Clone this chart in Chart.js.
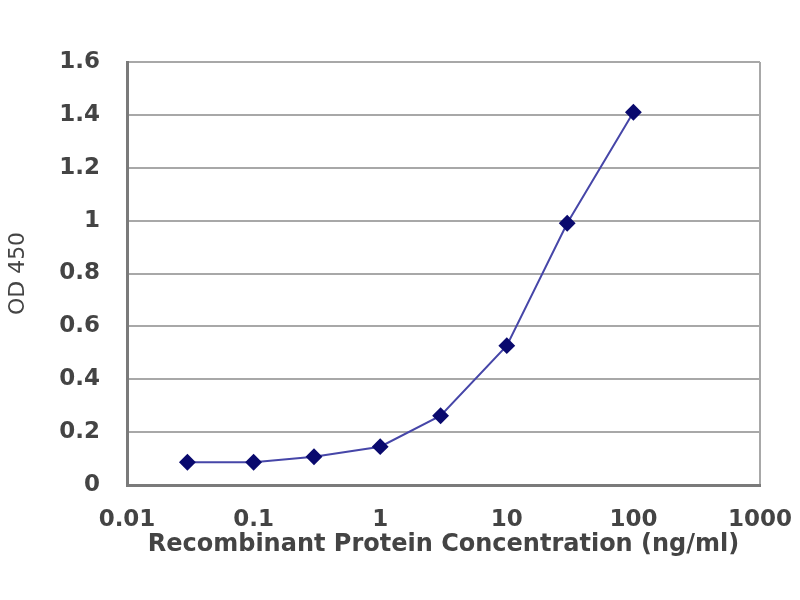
<!DOCTYPE html>
<html>
<head>
<meta charset="utf-8">
<title>OD 450 vs Recombinant Protein Concentration</title>
<script src="https://cdn.jsdelivr.net/npm/chart.js@4/dist/chart.umd.min.js"></script>
<style>
  html, body { margin: 0; padding: 0; background: #fff; }
  #wrap { width: 800px; height: 600px; }
</style>
</head>
<body>
<div id="wrap"><canvas id="odChart" width="800" height="600"></canvas></div>
<script>
// concentrations (ng/ml) and OD readings
const concentrations = [0.03, 0.1, 0.3, 1, 3, 10, 30, 100];
const odValues = [0.086, 0.086, 0.107, 0.145, 0.262, 0.527, 0.99, 1.41];
const xTickValues = [0.01, 0.1, 1, 10, 100, 1000];
const yTickValues = [0, 0.2, 0.4, 0.6, 0.8, 1, 1.2, 1.4, 1.6];

const textColor = '#444444';
const tickFont = { family: 'DejaVu Sans', size: 23, weight: 'bold' };

const ctx = document.getElementById('odChart').getContext('2d');
const chart = new Chart(ctx, {
    type: 'scatter',
    data: {
        datasets: [{
            label: 'OD 450',
            data: concentrations.map((c, i) => ({ x: c, y: odValues[i] })),
            showLine: true,
            borderColor: '#4646a8',
            borderWidth: 2,
            pointStyle: 'rectRot',
            pointRadius: 7,
            pointBackgroundColor: '#0a0a6e',
            pointBorderColor: '#0a0a6e'
        }]
    },
    options: {
        responsive: false,
        animation: false,
        layout: { padding: { top: 62, right: 40, left: 0, bottom: 0 } },
        plugins: { legend: { display: false }, tooltip: { enabled: false } },
        scales: {
            x: {
                type: 'logarithmic',
                min: 0.01,
                max: 1000,
                afterBuildTicks: s => { s.ticks = xTickValues.map(v => ({ value: v })); },
                afterFit: s => { s.height = 115; s.paddingLeft = 0; s.paddingRight = 0; },
                ticks: {
                    color: textColor,
                    font: tickFont,
                    padding: 21,
                    maxRotation: 0,
                    autoSkip: false,
                    callback: v => String(v)
                },
                grid: {
                    drawTicks: false,
                    lineWidth: 2,
                    color: c => (c.tick && c.tick.value === 1000) ? '#a8a8a8' : 'rgba(0,0,0,0)'
                },
                border: { color: '#7a7a7a', width: 3 },
                title: {
                    display: true,
                    text: 'Recombinant Protein Concentration (ng/ml)',
                    color: textColor,
                    font: { family: 'DejaVu Sans', size: 24, weight: 'bold' },
                    padding: { top: 0, bottom: 41 }
                }
            },
            y: {
                min: 0,
                max: 1.6,
                afterBuildTicks: s => { s.ticks = yTickValues.map(v => ({ value: v })); },
                afterFit: s => { s.width = 127; s.paddingTop = 0; s.paddingBottom = 0; },
                ticks: {
                    color: textColor,
                    font: tickFont,
                    padding: 27,
                    callback: v => String(Math.round(v * 10) / 10)
                },
                grid: {
                    drawTicks: false,
                    lineWidth: 2,
                    color: '#a8a8a8'
                },
                border: { color: '#7a7a7a', width: 3 },
                title: {
                    display: true,
                    text: 'OD 450',
                    color: textColor,
                    font: { family: 'DejaVu Sans', size: 22 },
                    padding: { top: 5, bottom: 0 }
                }
            }
        }
    }
});
</script>
</body>
</html>
